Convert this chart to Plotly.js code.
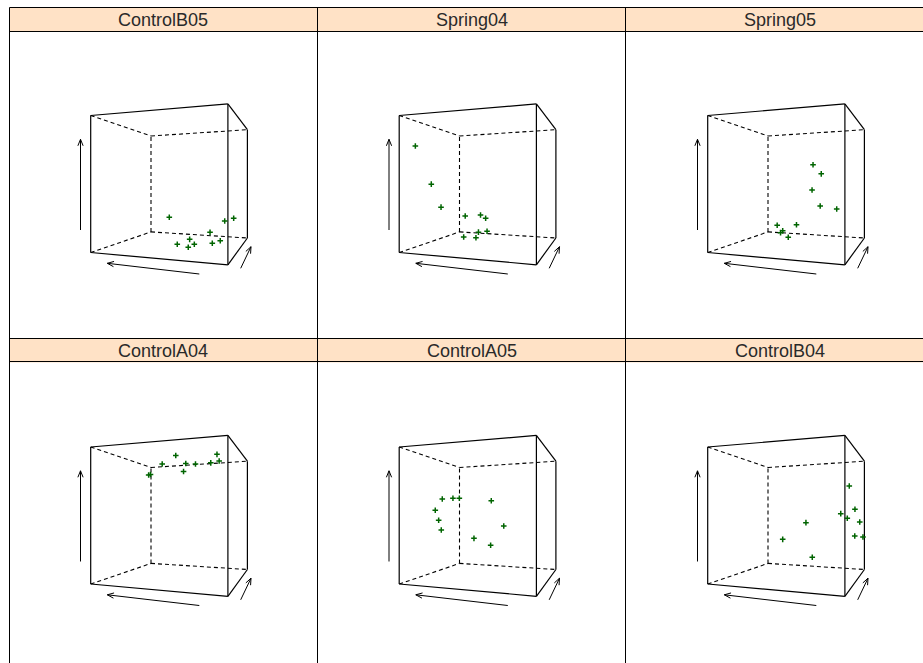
<!DOCTYPE html>
<html><head><meta charset="utf-8">
<script src="https://cdn.plot.ly/plotly-3.0.1.min.js"></script>
<style>html,body{margin:0;padding:0;background:#fff;}#chart{width:923px;height:663px;}</style>
</head><body><div id="chart"></div>
<script>
// ---------------- DATA (cloud plot: x = horizontal, y = depth, z = vertical; scaled 0..1 in the box) -------------
const panels = ["ControlB05", "Spring04", "Spring05", "ControlA04", "ControlA05", "ControlB04"];

const xControlB05 = [0.335, 0.966, 0.845, 0.710, 0.589, 0.548, 0.636, 0.629, 0.783, 0.804];
const yControlB05 = [0.7, 0.5, 0.7, 0.7, 0.5, 0.3, 0.3, 0.5, 0.5, 0.7];
const zControlB05 = [0.207, 0.245, 0.196, 0.096, 0.065, 0.057, 0.041, 0.029, 0.047, 0.031];

const xSpring04 = [0.076, 0.112, 0.190, 0.307, 0.360, 0.482, 0.205, 0.399, 0.341, 0.420];
const ySpring04 = [0.1, 0.3, 0.3, 0.5, 0.7, 0.5, 0.7, 0.5, 0.7, 0.7];
const zSpring04 = [0.782, 0.499, 0.320, 0.238, 0.228, 0.227, 0.024, 0.066, 0.076, 0.089];

const xSpring05 = [0.581, 0.714, 0.572, 0.705, 0.799, 0.251, 0.502, 0.282, 0.384, 0.353];
const ySpring05 = [0.7, 0.5, 0.7, 0.5, 0.7, 0.7, 0.5, 0.7, 0.5, 0.7];
const zSpring05 = [0.664, 0.579, 0.449, 0.330, 0.293, 0.132, 0.176, 0.068, 0.121, 0.032];

const xControlA04 = [0.145, 0.055, 0.354, 0.536, 0.556, 0.466, 0.576, 0.655, 0.823, 0.794];
const yControlA04 = [0.7, 0.9, 0.5, 0.3, 0.5, 0.7, 0.7, 0.9, 0.5, 0.7];
const zControlA04 = [0.866, 0.906, 0.919, 0.943, 0.911, 0.880, 0.939, 0.983, 0.966, 0.951];

const xControlA05 = [0.200, 0.202, 0.165, 0.459, 0.144, 0.171, 0.192, 0.637, 0.382, 0.587];
const yControlA05 = [0.3, 0.5, 0.7, 0.7, 0.3, 0.3, 0.3, 0.5, 0.5, 0.3];
const zControlA05 = [0.628, 0.643, 0.655, 0.628, 0.541, 0.463, 0.387, 0.418, 0.315, 0.283];

const xControlB04 = [0.954, 0.967, 0.920, 0.937, 0.973, 0.583, 0.965, 0.985, 0.384, 0.574];
const yControlB04 = [0.5, 0.7, 0.3, 0.5, 0.9, 0.5, 0.7, 1.0, 0.5, 0.7];
const zControlB04 = [0.721, 0.550, 0.514, 0.480, 0.442, 0.444, 0.334, 0.300, 0.307, 0.144];

const panelData = {
  ControlB05: [xControlB05, yControlB05, zControlB05],
  Spring04:   [xSpring04, ySpring04, zSpring04],
  Spring05:   [xSpring05, ySpring05, zSpring05],
  ControlA04: [xControlA04, yControlA04, zControlA04],
  ControlA05: [xControlA05, yControlA05, zControlA05],
  ControlB04: [xControlB04, yControlB04, zControlB04]
};

// ---------------- LAYOUT GEOMETRY (pixels) ----------------
const W = 923, H = 663;
const colLeft = [9, 317.5, 626];
const rowTop = [7.3, 338.8];
const panelW = 308.5, panelH = 331.5, stripH = 23.7;

// perspective frame of the cloud box, in panel-local pixel units
const FRONT = {L: 81.7, R: 218.9, lt: 108.2, lb: 245.2, rt: 96.6, rb: 257.5};
const BACK  = {L: 142.0, R: 238.4, lt: 128.7, lb: 224.6, rt: 122.4, rb: 230.7};

function lerp(a, b, t) { return a + (b - a) * t; }
function proj(u, d, w) {
  const L = lerp(FRONT.L, BACK.L, d), R = lerp(FRONT.R, BACK.R, d);
  const lt = lerp(FRONT.lt, BACK.lt, d), lb = lerp(FRONT.lb, BACK.lb, d);
  const rt = lerp(FRONT.rt, BACK.rt, d), rb = lerp(FRONT.rb, BACK.rb, d);
  const x = lerp(L, R, u);
  const ty = lerp(lt, rt, u), by = lerp(lb, rb, u);
  return [x, lerp(by, ty, w)];
}

const solidEdges = [
  [[0,0,1],[1,0,1]], [[0,0,0],[1,0,0]], [[0,0,0],[0,0,1]], [[1,0,0],[1,0,1]],
  [[1,0,1],[1,1,1]], [[1,0,0],[1,1,0]], [[1,1,0],[1,1,1]]
];
const dashedEdges = [
  [[0,0,1],[0,1,1]], [[0,1,1],[1,1,1]], [[0,0,0],[0,1,0]], [[0,1,0],[1,1,0]], [[0,1,0],[0,1,1]]
];
const arrows = [
  [[71.5, 222.7], [71.5, 132.0]],
  [[190.3, 266.7], [98.3, 256.0]],
  [[231.7, 261.0], [242.0, 239.4]]
];

function edgeXY(edges) {
  const xs = [], ys = [];
  edges.forEach(e => {
    const a = proj(...e[0]), b = proj(...e[1]);
    xs.push(a[0], b[0], null); ys.push(a[1], b[1], null);
  });
  return [xs, ys];
}
function arrowXY() {
  const xs = [], ys = [];
  const hl = 7, ang = 22 * Math.PI / 180;
  arrows.forEach(([t, p]) => {
    const dx = p[0] - t[0], dy = p[1] - t[1], len = Math.hypot(dx, dy);
    const ux = dx / len, uy = dy / len;
    const c = Math.cos(ang), s = Math.sin(ang);
    const h1 = [p[0] - hl * (ux * c - uy * s), p[1] - hl * (uy * c + ux * s)];
    const h2 = [p[0] - hl * (ux * c + uy * s), p[1] - hl * (uy * c - ux * s)];
    xs.push(t[0], p[0], null, h1[0], p[0], h2[0], null);
    ys.push(t[1], p[1], null, h1[1], p[1], h2[1], null);
  });
  return [xs, ys];
}

const traces = [];
const layout = {
  width: W, height: H, margin: {l: 0, r: 0, t: 0, b: 0},
  paper_bgcolor: '#ffffff', plot_bgcolor: 'rgba(0,0,0,0)',
  showlegend: false, shapes: [], annotations: []
};
const px = v => v / W, py = v => 1 - v / H;

panels.forEach((name, i) => {
  const c = i % 3, r = Math.floor(i / 3);
  const left = colLeft[c], top = rowTop[r];
  const right = Math.min(left + panelW, W), bottom = Math.min(top + panelH, H);
  const k = i + 1, xa = 'x' + (k === 1 ? '' : k), ya = 'y' + (k === 1 ? '' : k);
  layout['xaxis' + (k === 1 ? '' : k)] = {
    domain: [px(left), px(right)], range: [0, right - left], visible: false,
    fixedrange: true, anchor: ya, showgrid: false, zeroline: false
  };
  layout['yaxis' + (k === 1 ? '' : k)] = {
    domain: [py(bottom), py(top)], range: [bottom - top, 0], visible: false,
    fixedrange: true, anchor: xa, showgrid: false, zeroline: false
  };
  const s = edgeXY(solidEdges), dsh = edgeXY(dashedEdges), ar = arrowXY();
  traces.push({type: 'scatter', mode: 'lines', x: dsh[0], y: dsh[1], xaxis: xa, yaxis: ya,
    line: {color: '#000', width: 1.1, dash: '4px,3px'}, hoverinfo: 'skip'});
  traces.push({type: 'scatter', mode: 'lines', x: s[0], y: s[1], xaxis: xa, yaxis: ya,
    line: {color: '#000', width: 1.2}, hoverinfo: 'skip'});
  traces.push({type: 'scatter', mode: 'lines', x: ar[0], y: ar[1], xaxis: xa, yaxis: ya,
    line: {color: '#000', width: 1}, hoverinfo: 'skip'});
  const [dx, dy, dz] = panelData[name];
  const pts = dx.map((u, j) => proj(u, dy[j], dz[j]));
  traces.push({type: 'scatter', mode: 'markers', x: pts.map(p => p[0]), y: pts.map(p => p[1]),
    xaxis: xa, yaxis: ya, name: name,
    marker: {symbol: 'cross-thin', size: 4, color: '#006400', line: {color: '#006400', width: 1.5}},
    hoverinfo: 'skip'});
  layout.annotations.push({xref: 'paper', yref: 'paper', x: px(left + panelW / 2), y: py(top + stripH / 2 + 0.5),
    text: name, showarrow: false, xanchor: 'center', yanchor: 'middle',
    font: {family: 'Liberation Sans, Arial, sans-serif', size: 18, color: '#2a2a2a'}});
});

rowTop.forEach(t => {
  layout.shapes.push({type: 'rect', xref: 'paper', yref: 'paper', x0: px(9.5), x1: 1.01, y0: py(t + stripH), y1: py(t),
    fillcolor: '#ffe2c6', line: {width: 0}, layer: 'below'});
});
const hLines = [7.5, 31.5, 338.5, 361.5];
hLines.forEach(y => layout.shapes.push({type: 'line', xref: 'paper', yref: 'paper', x0: px(9.5), x1: 1.01, y0: py(y), y1: py(y),
  line: {color: '#000', width: 1}}));
[9.5, 317.5, 625.5].forEach(x => layout.shapes.push({type: 'line', xref: 'paper', yref: 'paper', x0: px(x), x1: px(x), y0: -0.01, y1: py(7.5),
  line: {color: '#000', width: 1}}));

Plotly.newPlot('chart', traces, layout, {staticPlot: true, displayModeBar: false});
</script>
</body></html>
